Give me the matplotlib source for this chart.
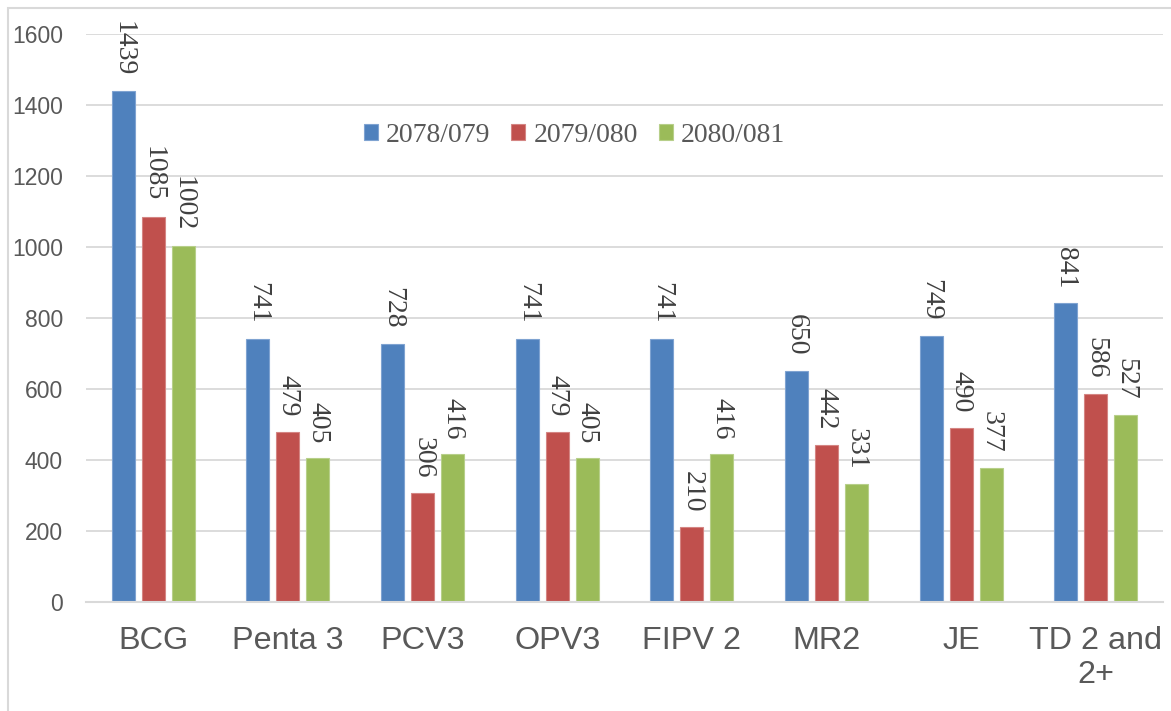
import matplotlib
matplotlib.use("Agg")
import matplotlib.pyplot as plt
from matplotlib.patches import Rectangle
import numpy as np

categories = ["BCG", "Penta 3", "PCV3", "OPV3", "FIPV 2", "MR2", "JE", "TD 2 and\n2+"]
series_names = ["2078/079", "2079/080", "2080/081"]
v_2078 = [1439, 741, 728, 741, 741, 650, 749, 841]
v_2079 = [1085, 479, 306, 479, 210, 442, 490, 586]
v_2080 = [1002, 405, 416, 405, 416, 331, 377, 527]
y_ticks = [0, 200, 400, 600, 800, 1000, 1200, 1400, 1600]

colors = ["#4F81BD", "#C0504D", "#9BBB59"]
edges = ["#7FA3D1", "#D48583", "#B7CF8A"]

fig = plt.figure(figsize=(11.71, 7.11), dpi=100)
ax = fig.add_axes([86/1171, 1-602/711, (1163-86)/1171, (602-34)/711])

x = np.arange(len(categories))
width = 0.171
step = 0.223
for i, (vals, name) in enumerate(zip([v_2078, v_2079, v_2080], series_names)):
    pos = x + (i - 1) * step
    ax.bar(pos, vals, width=width, color=colors[i], edgecolor=edges[i],
           linewidth=0.8, label=name, zorder=3)
    for xb, v in zip(pos, vals):
        ax.annotate(str(v), (xb, v), xytext=(0, 11), textcoords="offset points",
                    rotation=-90, ha="center", va="bottom",
                    fontsize=20, family="Liberation Serif", color="#404040")

ax.set_xlim(-0.5, len(categories) - 0.5)
ax.set_ylim(0, 1600)
ax.set_yticks(y_ticks)
ax.set_yticklabels([str(t) for t in y_ticks], fontsize=16.5, family="Liberation Sans", color="#595959")
ax.set_xticks(x)
ax.set_xticklabels(categories, fontsize=23.3, family="Liberation Sans", color="#595959")
ax.tick_params(axis="both", length=0)
ax.tick_params(axis="x", pad=17)
ax.tick_params(axis="y", pad=16.5)
ax.grid(axis="y", color="#d9d9d9", linewidth=1.3, zorder=0)
for s in ["top", "right", "left"]:
    ax.spines[s].set_visible(False)
ax.spines["bottom"].set_color("#d9d9d9")
ax.spines["bottom"].set_linewidth(1.5)
ax.spines["bottom"].set_zorder(4)

leg = ax.legend(loc="center", bbox_to_anchor=(574.5/1171, 1-135/711),
                bbox_transform=fig.transFigure, ncol=3, frameon=False,
                prop={"family": "Liberation Serif", "size": 20},
                handlelength=0.5, handleheight=0.5, handletextpad=0.3,
                columnspacing=0.75)
for t in leg.get_texts():
    t.set_color("#595959")

fig.patches.append(Rectangle((8/1171, -0.1), 1.2, 1.1 - 8/711, transform=fig.transFigure,
                             fill=False, edgecolor="#d9d9d9", linewidth=1.5, zorder=0))

fig.savefig("out.png", dpi=100)
